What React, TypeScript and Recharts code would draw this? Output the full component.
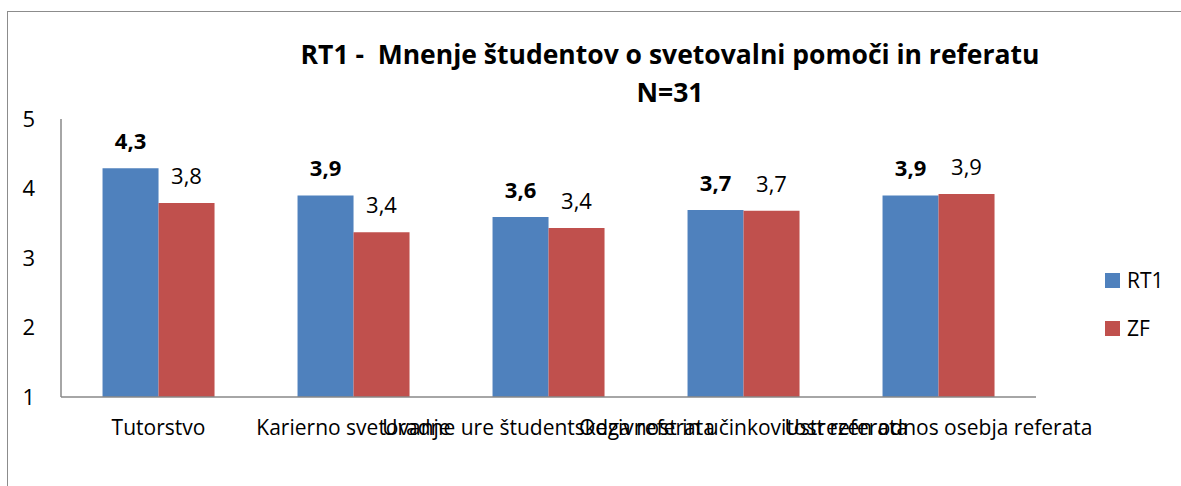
import React from 'react'
import { BarChart, Bar, XAxis, YAxis, LabelList } from 'recharts'

const categories = [
  'Tutorstvo',
  'Karierno svetovanje',
  'Uradne ure študentskega referata',
  'Odzivnost in učinkovitost referata',
  'Ustrezen odnos osebja referata',
]
const rt1Values = [4.29, 3.9, 3.59, 3.69, 3.9]
const zfValues = [3.79, 3.37, 3.43, 3.68, 3.92]
const yTicks = [1, 2, 3, 4, 5]
const seriesNames = ['RT1', 'ZF']

const FONT = '"Open Sans", sans-serif'
const BLUE = '#4f81bd'
const RED = '#c0504d'
const AXIS = '#888888'

const fmt = (v: unknown) => Number(v).toFixed(1).replace('.', ',')

const chartData = categories.map((name, i) => ({
  name,
  RT1: rt1Values[i],
  ZF: zfValues[i],
}))

// legend sits to the right of the plot, like the Excel original
function LegendBox() {
  const colors = [BLUE, RED]
  return (
    <div style={{ position: 'absolute', left: 1105, top: 256, fontFamily: FONT, fontSize: 21, color: '#000' }}>
      {seriesNames.map((s, i) => (
        <div key={s} style={{ display: 'flex', alignItems: 'center', height: 48 }}>
          <div style={{ width: 15, height: 15, background: colors[i], marginRight: 7 }} />
          {s}
        </div>
      ))}
    </div>
  )
}

export default function App() {
  return (
    <div style={{ position: 'absolute', left: 0, top: 0, width: 1181, height: 486, overflow: 'hidden', background: '#fff' }}>
      <div
        style={{
          position: 'absolute',
          left: 7,
          top: 11,
          width: 1300,
          height: 600,
          border: '1.5px solid #8c8c8c',
        }}
      />
      <div
        style={{
          position: 'absolute',
          left: 270,
          top: 35,
          width: 800,
          textAlign: 'center',
          fontFamily: FONT,
          fontWeight: 700,
          fontSize: 26.5,
          lineHeight: '38px',
          color: '#000',
          whiteSpace: 'pre',
        }}
      >
        {'RT1 -  Mnenje študentov o svetovalni pomoči in referatu\nN=31'}
      </div>
      <div style={{ position: 'absolute', left: 0, top: 0 }}>
        <BarChart
          width={1181}
          height={486}
          data={chartData}
          margin={{ top: 119, right: 145, left: 0, bottom: 49 }}
          barCategoryGap="21.3%"
          barGap={0}
        >
          <XAxis
            dataKey="name"
            interval={0}
            tickLine={false}
            axisLine={{ stroke: AXIS, strokeWidth: 1.5 }}
            tick={{ fontSize: 21, fill: '#000', fontFamily: FONT }}
            tickMargin={17}
            height={40}
          />
          <YAxis
            domain={[1, 5]}
            ticks={yTicks}
            interval={0}
            tickLine={false}
            axisLine={{ stroke: AXIS, strokeWidth: 1.5 }}
            tick={{ fontSize: 22, fill: '#000', fontFamily: FONT }}
            tickSize={0}
            tickMargin={26}
            width={61}
          />
          <Bar dataKey="RT1" fill={BLUE} isAnimationActive={false}>
            <LabelList
              dataKey="RT1"
              position="top"
              offset={19}
              formatter={fmt}
              style={{ fontSize: 22, fontWeight: 700, fill: '#000', fontFamily: FONT }}
            />
          </Bar>
          <Bar dataKey="ZF" fill={RED} isAnimationActive={false}>
            <LabelList
              dataKey="ZF"
              position="top"
              offset={19}
              formatter={fmt}
              style={{ fontSize: 22, fill: '#000', fontFamily: FONT }}
            />
          </Bar>
        </BarChart>
      </div>
      <LegendBox />
    </div>
  )
}
